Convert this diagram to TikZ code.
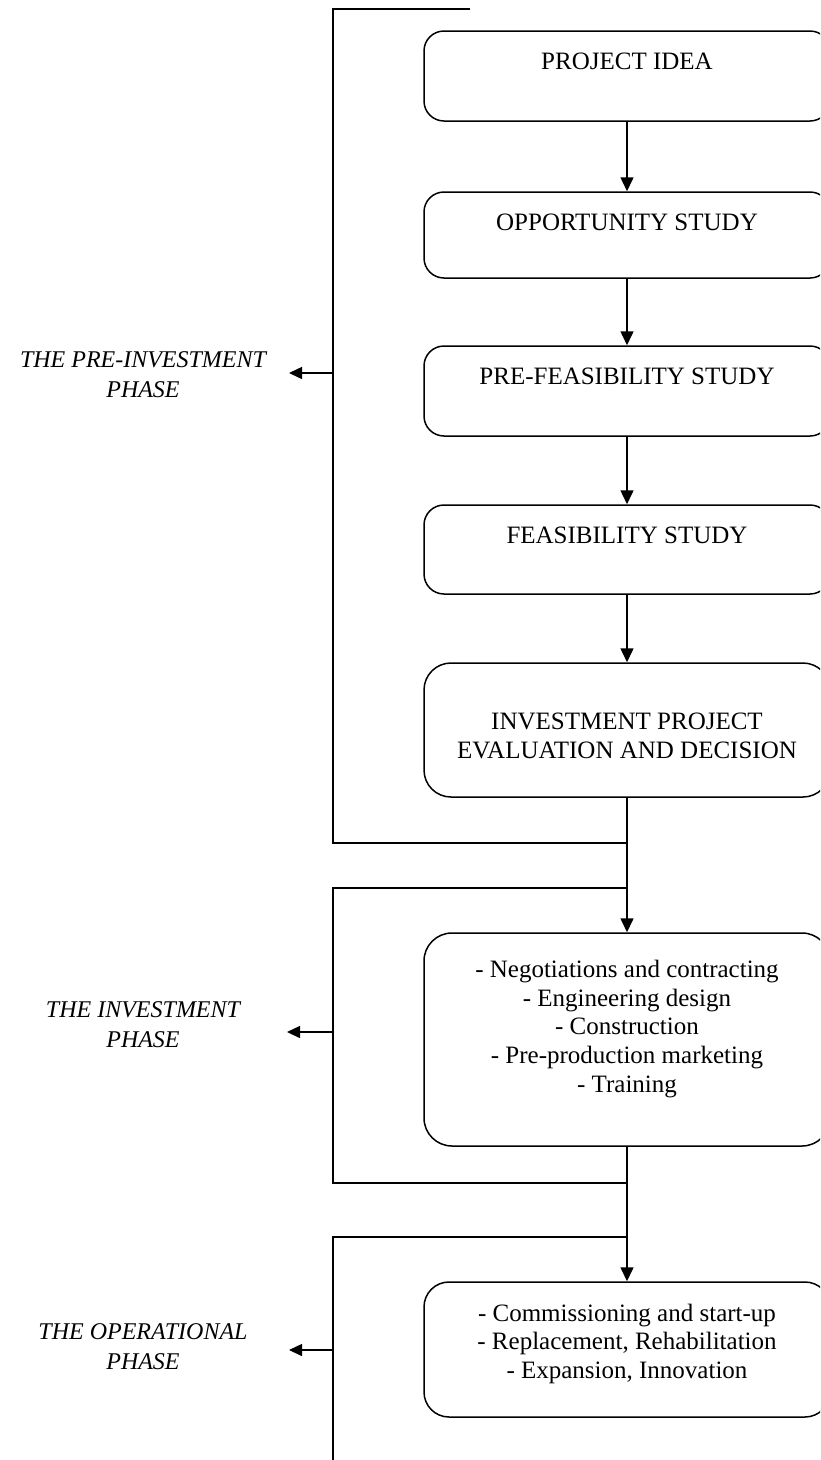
\documentclass[tikz,border=0pt]{standalone}
\usepackage{fontspec}
\setmainfont{Liberation Serif}
\usetikzlibrary{arrows.meta}
\begin{document}
\begin{tikzpicture}[x=1pt,y=-1pt,
  stage/.style={draw, line width=1.5pt, minimum width=406pt, inner sep=0pt},
  boxtext/.style={align=center, inner sep=0pt, font=\fontsize{25}{28.7}\selectfont},
  phase/.style={align=center, inner sep=0pt, font=\fontsize{24}{30}\selectfont\itshape},
  wire/.style={line width=1.5pt},
  flow/.style={wire, -{Triangle[length=14pt,width=13pt]}},
  pointer/.style={wire, -{Triangle[length=13pt,width=12pt]}},
  ]
\clip (0,0) rectangle (820,1460);

% stage boxes (they run past the right edge of the page)
\node[stage, rounded corners=20pt, minimum height=90pt]  (idea)   at (627,76)    {};
\node[stage, rounded corners=20pt, minimum height=86pt]  (opp)    at (627,235)   {};
\node[stage, rounded corners=20pt, minimum height=90pt]  (prefeas) at (627,391)  {};
\node[stage, rounded corners=20pt, minimum height=89pt]  (feas)   at (627,549.5) {};
\node[stage, rounded corners=27pt, minimum height=134pt] (eval)   at (627,730)   {};
\node[stage, rounded corners=28pt, minimum height=213pt] (invest) at (627,1039.5){};
\node[stage, rounded corners=25pt, minimum height=135pt] (oper)   at (627,1349.5){};

% texts of the boxes
\node[boxtext] (tidea)   at (627,63.5)  {PROJECT IDEA\strut};
\node[boxtext] (topp)    at (627,224.5) {OPPORTUNITY STUDY\strut};
\node[boxtext] (tprefeas) at (627,378.5) {PRE-FEASIBILITY STUDY\strut};
\node[boxtext] (tfeas)   at (627,537.5) {FEASIBILITY STUDY\strut};
\node[boxtext] (teval)   at (627,738.3) {INVESTMENT PROJECT\strut\\EVALUATION AND DECISION\strut};
\node[boxtext] (tinvest) at (627,1029)  {- Negotiations and contracting\strut\\- Engineering design\strut\\- Construction\strut\\- Pre-production marketing\strut\\- Training\strut};
\node[boxtext] (toper)   at (627,1344)  {- Commissioning and start-up\strut\\- Replacement, Rehabilitation\strut\\- Expansion, Innovation\strut};

% phase labels
\node[phase] (lpre) at (143,376.7)  {THE PRE-INVESTMENT\strut\\PHASE\strut};
\node[phase] (linv) at (143,1026.4) {THE INVESTMENT\strut\\PHASE\strut};
\node[phase] (lop)  at (143,1348)   {THE OPERATIONAL\strut\\PHASE\strut};

% flow between the stages
\draw[flow] (idea.south) -- (opp.north);
\draw[flow] (opp.south) -- (prefeas.north);
\draw[flow] (prefeas.south) -- (feas.north);
\draw[flow] (feas.south) -- (eval.north);
\draw[flow] (eval.south) -- (invest.north);
\draw[flow] (invest.south) -- (oper.north);

% phase brackets
\coordinate (preTop)  at (470,9);
\coordinate (preEnd)  at (627,843);
\draw[wire] (preTop) -| (333,843) -- (preEnd);
\coordinate (invTop)  at (627,888);
\coordinate (invEnd)  at (627,1183);
\draw[wire] (invTop) -| (333,1183) -- (invEnd);
\coordinate (opTop)   at (627,1237);
\draw[wire] (opTop) -| (333,1475);

% pointers from the brackets to the labels
\coordinate (preFrom) at (333,373);
\coordinate (preTip)  at (289,373);
\draw[pointer] (preFrom) -- (preTip);
\coordinate (invFrom) at (333,1032);
\coordinate (invTip)  at (287,1032);
\draw[pointer] (invFrom) -- (invTip);
\coordinate (opFrom)  at (333,1350);
\coordinate (opTip)   at (289,1350);
\draw[pointer] (opFrom) -- (opTip);
\end{tikzpicture}
\end{document}
